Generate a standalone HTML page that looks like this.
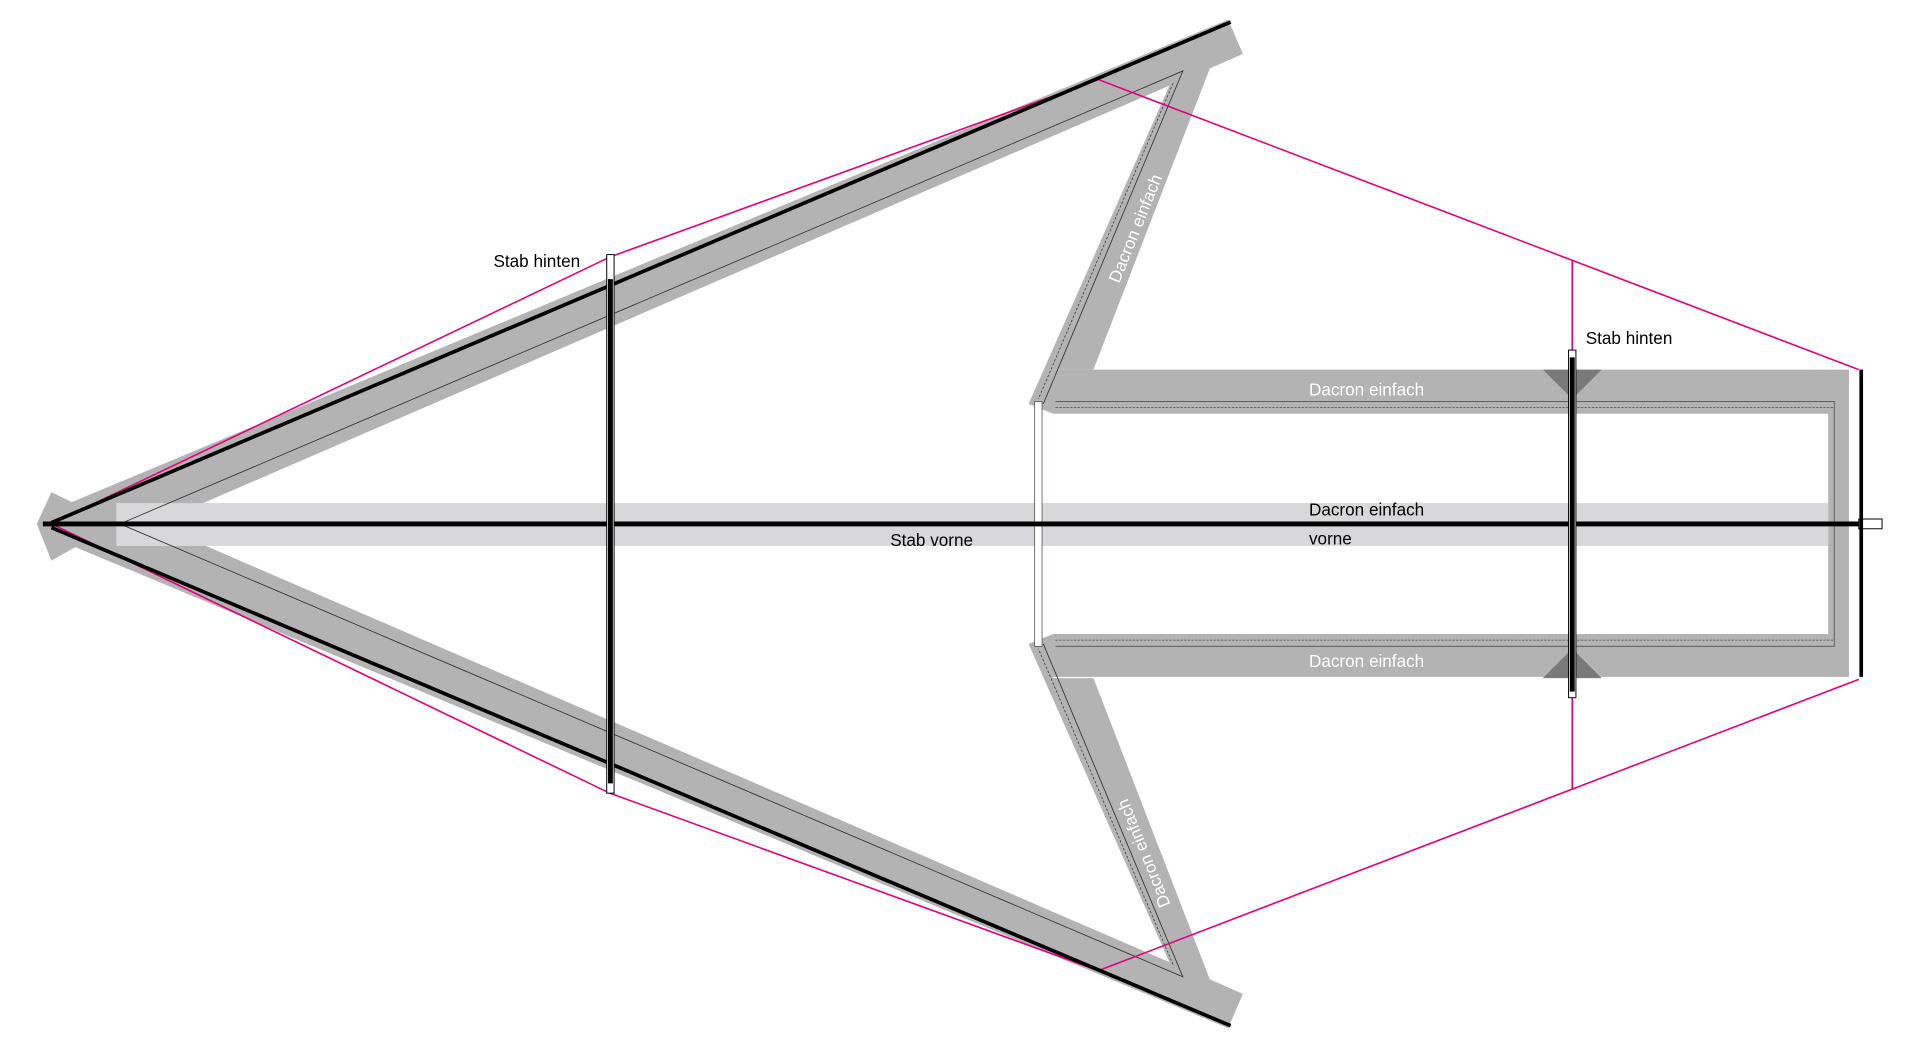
<!DOCTYPE html>
<html><head><meta charset="utf-8"><style>html,body{margin:0;padding:0;background:#fff;}svg{display:block}</style></head>
<body>
<svg width="1920" height="1049" viewBox="0 0 1568 857" preserveAspectRatio="none" xmlns="http://www.w3.org/2000/svg" font-family="Liberation Sans, sans-serif">
<rect width="1568" height="857" fill="#fff"/>
<polygon points="40,418 1003,16 1015,44 988,56 893,302 860,302 860,338 840,330 955,70 108,436" fill="#b3b3b3"/>
<polygon points="40,438 1003,840 1015,812 988,800 893,554 860,554 860,518 840,526 955,786 108,420" fill="#b3b3b3"/>
<polygon points="30,428 42,402 95,428 42,458" fill="#b3b3b3"/>
<rect x="860" y="302" width="650" height="251" fill="#b3b3b3"/>
<rect x="860" y="338" width="633" height="180" fill="#fff"/>
<rect x="95" y="411" width="1398" height="35" fill="#d8d8da"/>
<polyline points="98,428 966,58 852,330" fill="none" stroke="#333" stroke-width="0.7"/>
<polyline points="98,428 966,798 852,526" fill="none" stroke="#333" stroke-width="0.7"/>
<line x1="958" y1="68" x2="848" y2="326" stroke="#333" stroke-width="0.6" stroke-dasharray="2,1.5"/>
<line x1="958" y1="788" x2="848" y2="530" stroke="#333" stroke-width="0.6" stroke-dasharray="2,1.5"/>
<polyline points="862,328 1498,328 1498,528 862,528" fill="none" stroke="#555" stroke-width="0.7"/>
<line x1="862" y1="333" x2="1498" y2="333" stroke="#555" stroke-width="0.6" stroke-dasharray="2,1"/>
<line x1="862" y1="523" x2="1498" y2="523" stroke="#555" stroke-width="0.6" stroke-dasharray="2,1"/>
<rect x="845" y="328" width="6" height="200" fill="#fff" stroke="#444" stroke-width="0.6"/>
<polygon points="1260,302 1308,302 1284,326" fill="#7a7a7a"/>
<polygon points="1260,554 1308,554 1284,530" fill="#7a7a7a"/>
<polyline points="42,428 498,210 897,65 1518,302" fill="none" stroke="#e6007e" stroke-width="1.3"/>
<polyline points="42,428 498,648 897,793 1518,555" fill="none" stroke="#e6007e" stroke-width="1.3"/>
<line x1="1284" y1="213" x2="1284" y2="645" stroke="#e6007e" stroke-width="1.3"/>
<line x1="42" y1="427" x2="1005" y2="18" stroke="#000" stroke-width="3"/>
<line x1="42" y1="431" x2="1005" y2="838" stroke="#000" stroke-width="3"/>
<line x1="35" y1="428" x2="1530" y2="428" stroke="#000" stroke-width="4"/>
<rect x="1518" y="424" width="19" height="8" fill="#fff" stroke="#000" stroke-width="0.8"/>
<rect x="495.5" y="208" width="6" height="440" fill="#fff" stroke="#000" stroke-width="0.8"/>
<line x1="498.5" y1="228" x2="498.5" y2="640" stroke="#000" stroke-width="4"/>
<rect x="1281" y="286" width="6" height="284" fill="#fff" stroke="#000" stroke-width="0.8"/>
<line x1="1284" y1="292" x2="1284" y2="565" stroke="#000" stroke-width="4"/>
<line x1="1520" y1="302" x2="1520" y2="553" stroke="#000" stroke-width="3"/>
<g font-size="14" fill="#000">
<text x="403" y="218">Stab hinten</text>
<text x="1295" y="281">Stab hinten</text>
<text x="1069" y="421">Dacron einfach</text>
<text x="1069" y="445">vorne</text>
<text x="727" y="446">Stab vorne</text>
</g>
<g font-size="14" fill="#fff">
<text x="1069" y="323">Dacron einfach</text>
<text x="1069" y="545">Dacron einfach</text>
<text transform="translate(914,232) rotate(-68)">Dacron einfach</text>
<text transform="translate(956,739) rotate(-112)">Dacron einfach</text>
</g>
</svg>
</body></html>
